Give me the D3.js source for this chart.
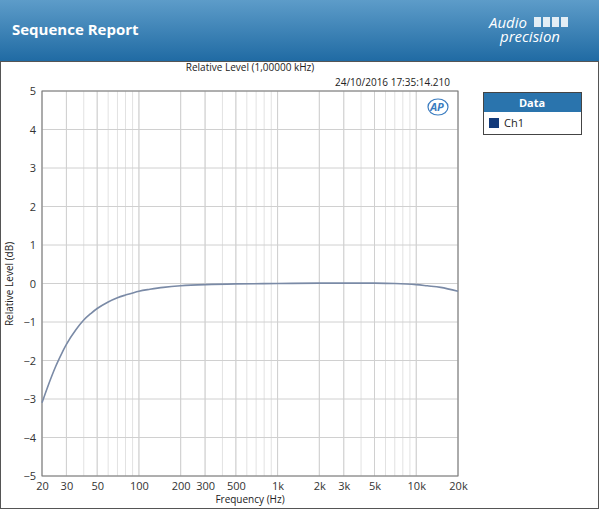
<!DOCTYPE html><html><head><meta charset="utf-8">
<script src="https://d3js.org/d3.v7.min.js"></script>
<style>body{margin:0;background:#fff;font-family:"Open Sans","DejaVu Sans",sans-serif}</style></head><body>
<svg id="c" width="599" height="509"></svg>
<script>
const freqs=[20,22,25,28,30,35,40,45,50,60,70,80,100,120,150,200,300,500,1000,2000,3000,5000,7000,10000,12000,15000,20000];
const levels=[-3.1,-2.68,-2.17,-1.79,-1.58,-1.21,-0.95,-0.78,-0.65,-0.48,-0.37,-0.3,-0.2,-0.15,-0.1,-0.06,-0.03,-0.01,0,0.01,0.01,0.01,0,-0.03,-0.06,-0.1,-0.2];
const xTicks=[20,30,50,100,200,300,500,1000,2000,3000,5000,10000,20000];
const xTickLabels=["20","30","50","100","200","300","500","1k","2k","3k","5k","10k","20k"];
const yTicks=[-5,-4,-3,-2,-1,0,1,2,3,4,5];
const svg=d3.select("#c");
const defs=svg.append("defs");
const g=defs.append("linearGradient").attr("id","hg").attr("x1",0).attr("y1",0).attr("x2",0).attr("y2",1);
g.append("stop").attr("offset",0).attr("stop-color","#5d9cc9");
g.append("stop").attr("offset",1).attr("stop-color","#1f6aa3");
svg.append("rect").attr("width",599).attr("height",62).attr("fill","url(#hg)");
svg.append("text").attr("x",12).attr("y",35).attr("fill","#fff").attr("font-size",15).attr("font-weight","bold").text("Sequence Report");
svg.append("text").attr("x",508).attr("y",28).attr("fill","#fff").attr("font-size",15).attr("font-style","italic").attr("text-anchor","middle").text("Audio");
svg.append("text").attr("x",530).attr("y",42).attr("fill","#fff").attr("font-size",15).attr("font-style","italic").attr("text-anchor","middle").text("precision");
svg.append("g").selectAll("rect").data([0,1,2,3]).join("rect").attr("x",d=>534+d*9).attr("y",17).attr("width",7).attr("height",10).attr("fill","#fff").attr("opacity",0.85);
svg.append("rect").attr("x",0.5).attr("y",61.5).attr("width",598).attr("height",447).attr("fill","#fff").attr("stroke","#555");
const x=d3.scaleLog().domain([20,20000]).range([42,458]);
const y=d3.scaleLinear().domain([-5,5]).range([476,91]);
const minor=[];for(let d=10;d<=10000;d*=10)for(let k=1;k<10;k++){const v=d*k;if(v>=20&&v<=20000)minor.push(v);}
svg.append("g").selectAll("line").data(minor).join("line").attr("x1",d=>x(d)).attr("x2",d=>x(d)).attr("y1",91).attr("y2",476).attr("stroke","#e2e2e2");
svg.append("g").selectAll("line").data(xTicks).join("line").attr("x1",d=>x(d)).attr("x2",d=>x(d)).attr("y1",91).attr("y2",476).attr("stroke","#d0d0d0");
svg.append("g").selectAll("line").data(yTicks).join("line").attr("x1",42).attr("x2",458).attr("y1",d=>y(d)).attr("y2",d=>y(d)).attr("stroke","#d0d0d0");
svg.append("rect").attr("x",42).attr("y",91).attr("width",416).attr("height",385).attr("fill","none").attr("stroke","#777");
const xa=svg.append("g").attr("transform","translate(0,476)").call(d3.axisBottom(x).tickValues(xTicks).tickFormat((d,i)=>xTickLabels[i]).tickSize(0).tickPadding(6));
const ya=svg.append("g").attr("transform","translate(42,0)").call(d3.axisLeft(y).tickValues(yTicks).tickFormat(d3.format("d")).tickSize(0).tickPadding(6));
[xa,ya].forEach(a=>{a.select(".domain").remove();a.selectAll("text").attr("font-size",11).attr("fill","#333").attr("font-family","Open Sans, sans-serif");});
svg.append("path").datum(freqs.map((f,i)=>[f,levels[i]])).attr("fill","none").attr("stroke","#7a8aa6").attr("stroke-width",1.6)
 .attr("d",d3.line().x(d=>x(d[0])).y(d=>y(d[1])).curve(d3.curveCatmullRom));
svg.append("text").attr("x",250).attr("y",71).attr("text-anchor","middle").attr("font-size",10).attr("fill","#222").text("Relative Level (1,00000 kHz)");
svg.append("text").attr("x",450).attr("y",86).attr("text-anchor","end").attr("font-size",10).attr("fill","#222").text("24/10/2016 17:35:14.210");
svg.append("text").attr("x",250).attr("y",503).attr("text-anchor","middle").attr("font-size",10).attr("fill","#222").text("Frequency (Hz)");
svg.append("text").attr("transform","translate(13,284) rotate(-90)").attr("text-anchor","middle").attr("font-size",10).attr("fill","#222").text("Relative Level (dB)");
svg.append("ellipse").attr("cx",438).attr("cy",107).attr("rx",10).attr("ry",8).attr("fill","none").attr("stroke","#3a7cc0").attr("stroke-width",1.2);
svg.append("text").attr("x",437).attr("y",111).attr("text-anchor","middle").attr("font-size",11).attr("font-weight","bold").attr("font-style","italic").attr("fill","#3a7cc0").text("AP");
svg.append("rect").attr("x",483.5).attr("y",92.5).attr("width",98).attr("height",42).attr("fill","#fff").attr("stroke","#444");
svg.append("rect").attr("x",484).attr("y",93).attr("width",97).attr("height",19).attr("fill","#2a74ad");
svg.append("text").attr("x",532).attr("y",107).attr("text-anchor","middle").attr("fill","#fff").attr("font-size",11).attr("font-weight","bold").text("Data");
svg.append("rect").attr("x",489).attr("y",118).attr("width",10).attr("height",10).attr("fill","#123a7a");
svg.append("text").attr("x",504).attr("y",127).attr("font-size",11).attr("fill","#222").text("Ch1");
</script></body></html>
